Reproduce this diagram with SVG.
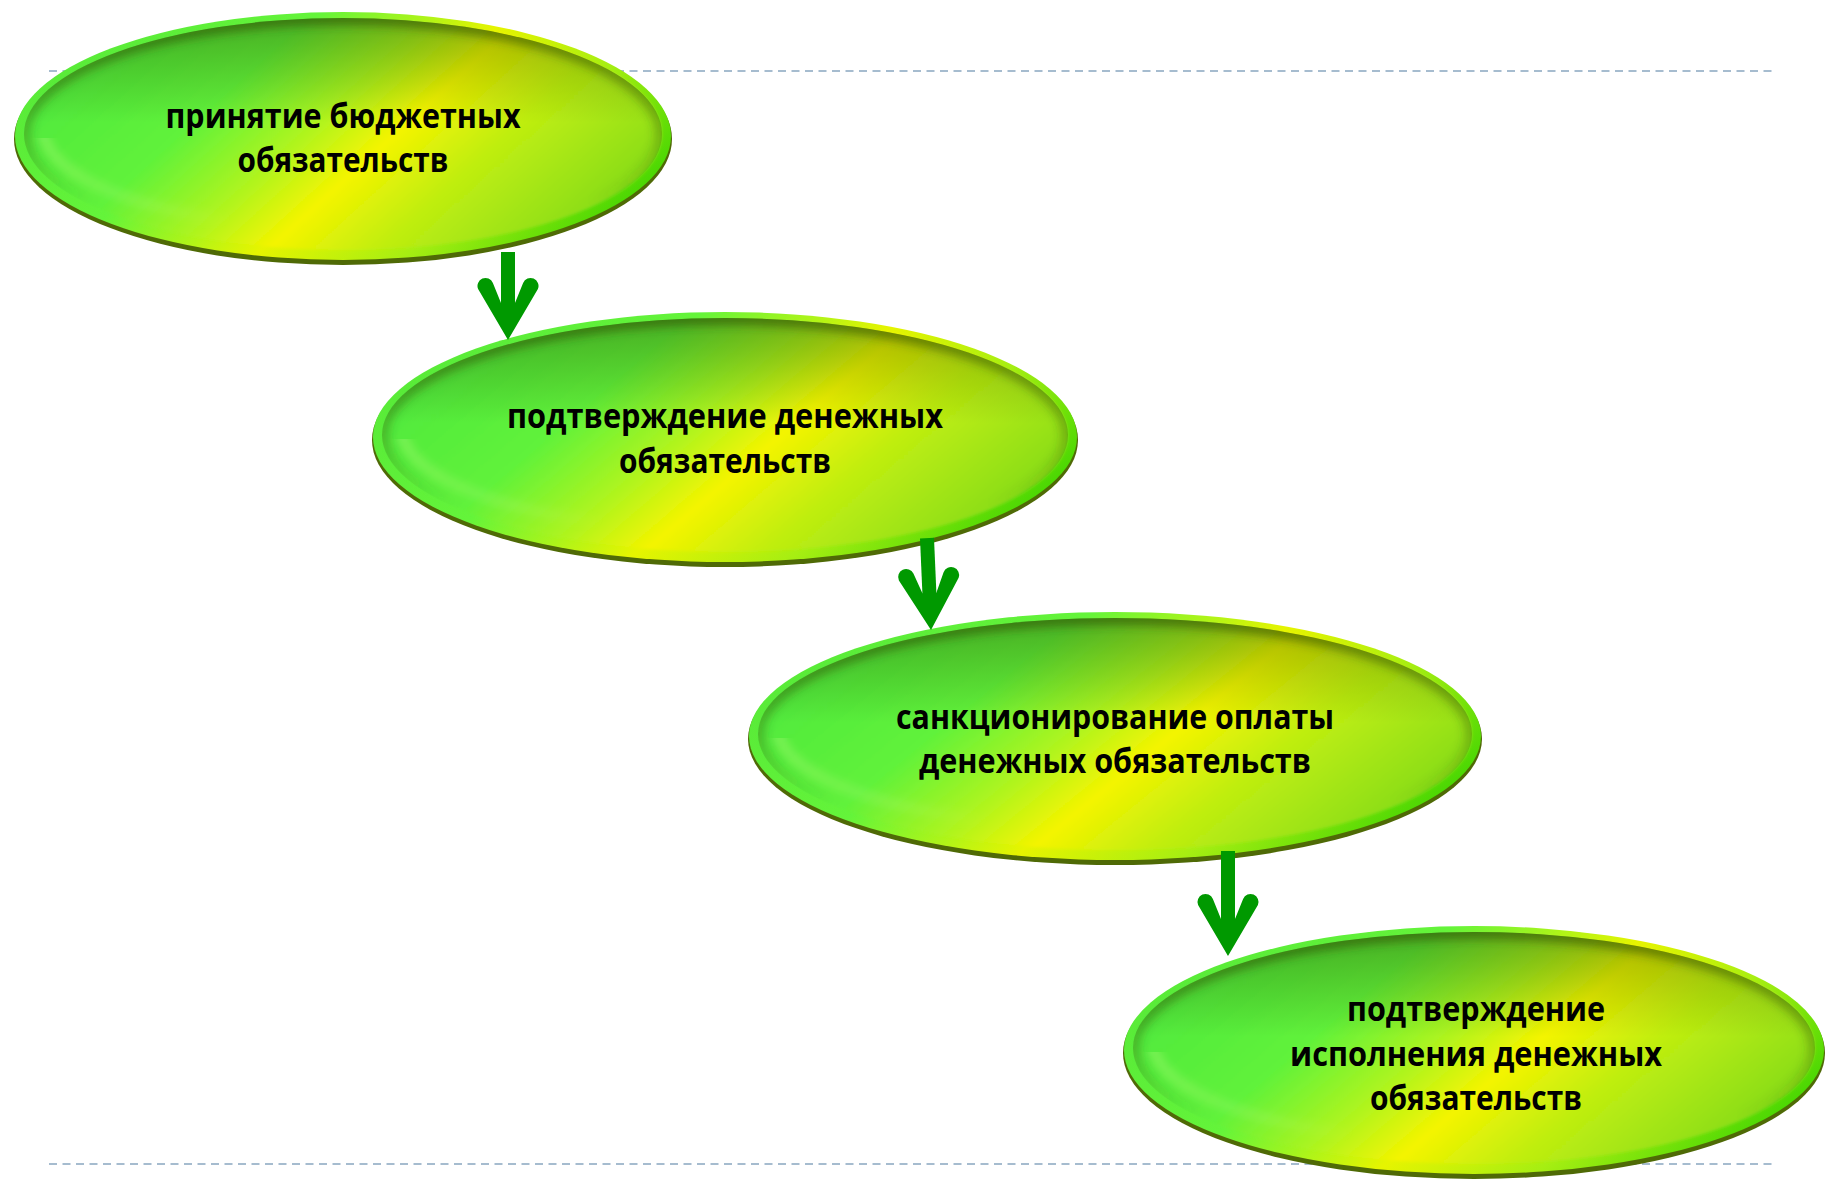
<svg xmlns="http://www.w3.org/2000/svg" width="1825" height="1181" viewBox="0 0 1825 1181">
  <style>
    .lbl { font-family: "Open Sans", "Noto Sans", "Liberation Sans", sans-serif; font-weight: 700; font-size: 34px; fill: #000; text-anchor: middle; }
    .guide { stroke: #a6bccf; stroke-width: 2; stroke-dasharray: 8 5.5; fill: none; }
    .base { fill: #4f6a06; }
    .rim { fill: url(#rimGrad); }
    .body { fill: url(#bodyGrad); }
    .shade { fill: url(#shadeGrad); }
    .edge { fill: none; stroke: url(#edgeGrad); stroke-width: 14; }
    .hl { fill: none; stroke: url(#hlGrad); stroke-width: 10; }
    .arrow { fill: #009900; }
    .shaft { stroke: #009900; stroke-width: 14; fill: none; }
  </style>
  <defs>
    <linearGradient id="rimGrad" x1="0" y1="0.3" x2="1" y2="0.7">
      <stop offset="0" stop-color="#58ea38"/>
      <stop offset="0.3" stop-color="#64f43a"/>
      <stop offset="0.55" stop-color="#e6f400"/>
      <stop offset="0.75" stop-color="#a6ee12"/>
      <stop offset="1" stop-color="#3cd400"/>
    </linearGradient>
    <linearGradient id="bodyGrad" x1="0" y1="0.3" x2="1" y2="0.7">
      <stop offset="0" stop-color="#4ee83c"/>
      <stop offset="0.28" stop-color="#60f23a"/>
      <stop offset="0.45" stop-color="#b0f41e"/>
      <stop offset="0.57" stop-color="#f4f400"/>
      <stop offset="0.72" stop-color="#c0ee10"/>
      <stop offset="1" stop-color="#80da1a"/>
    </linearGradient>
    <linearGradient id="shadeGrad" x1="0" y1="0" x2="0" y2="1">
      <stop offset="0" stop-color="#2a5200" stop-opacity="0.42"/>
      <stop offset="0.22" stop-color="#2a5a00" stop-opacity="0.22"/>
      <stop offset="0.45" stop-color="#2a5a00" stop-opacity="0"/>
      <stop offset="1" stop-color="#2a5a00" stop-opacity="0"/>
    </linearGradient>
    <linearGradient id="edgeGrad" x1="0" y1="0" x2="0" y2="1">
      <stop offset="0" stop-color="#2c4a00" stop-opacity="0.55"/>
      <stop offset="0.5" stop-color="#2c4a00" stop-opacity="0.3"/>
      <stop offset="0.8" stop-color="#2c4a00" stop-opacity="0"/>
    </linearGradient>
    <linearGradient id="hlGrad" x1="0" y1="0" x2="1" y2="0.4">
      <stop offset="0" stop-color="#c8ff90" stop-opacity="0.45"/>
      <stop offset="0.35" stop-color="#d8ff90" stop-opacity="0.2"/>
      <stop offset="0.6" stop-color="#ffffff" stop-opacity="0"/>
    </linearGradient>
    <clipPath id="inner" clipPathUnits="objectBoundingBox">
      <ellipse cx="0.5" cy="0.5" rx="0.5" ry="0.5"/>
    </clipPath>
    <clipPath id="lower" clipPathUnits="objectBoundingBox">
      <rect x="-0.1" y="0.55" width="1.2" height="0.6"/>
    </clipPath>
    <filter id="soft" x="-5%" y="-10%" width="110%" height="120%">
      <feGaussianBlur stdDeviation="1.5"/>
    </filter>
    <filter id="blur" x="-5%" y="-10%" width="110%" height="120%">
      <feGaussianBlur stdDeviation="5"/>
    </filter>
    <path id="head" d="M0,0 L-29.9,-50.9 A8,8 0 0 1 -15.1,-57.1 L-7,-37 L7,-37 L15.1,-57.1 A8,8 0 0 1 29.9,-50.9 Z"/>
  </defs>

  <rect width="1825" height="1181" fill="#ffffff"/>

  <g id="guides">
    <line class="guide" x1="49" y1="71" x2="1777" y2="71"/>
    <line class="guide" x1="49" y1="1164" x2="1777" y2="1164"/>
  </g>

  <g id="node1">
    <ellipse class="base" cx="343" cy="139" rx="329" ry="126"/>
    <ellipse class="rim" cx="343" cy="136" rx="328" ry="124"/>
    <ellipse class="body" cx="343" cy="134" rx="319" ry="116" filter="url(#soft)"/>
    <ellipse class="shade" cx="343" cy="134" rx="319" ry="116"/>
    <g clip-path="url(#inner)"><ellipse class="edge" cx="343" cy="134" rx="319" ry="116" filter="url(#blur)"/></g>
    <ellipse class="hl" cx="343" cy="128" rx="300" ry="100" filter="url(#blur)" clip-path="url(#lower)"/>
    <text class="lbl" x="343" y="128" textLength="355" lengthAdjust="spacingAndGlyphs">принятие бюджетных</text>
    <text class="lbl" x="343" y="172" textLength="211" lengthAdjust="spacingAndGlyphs">обязательств</text>
  </g>

  <g id="node2">
    <ellipse class="base" cx="725" cy="440" rx="353" ry="127"/>
    <ellipse class="rim" cx="725" cy="437" rx="352" ry="125"/>
    <ellipse class="body" cx="725" cy="435" rx="343" ry="117" filter="url(#soft)"/>
    <ellipse class="shade" cx="725" cy="435" rx="343" ry="117"/>
    <g clip-path="url(#inner)"><ellipse class="edge" cx="725" cy="435" rx="343" ry="117" filter="url(#blur)"/></g>
    <ellipse class="hl" cx="725" cy="429" rx="323" ry="101" filter="url(#blur)" clip-path="url(#lower)"/>
    <text class="lbl" x="725" y="428" textLength="436" lengthAdjust="spacingAndGlyphs">подтверждение денежных</text>
    <text class="lbl" x="725" y="473" textLength="212" lengthAdjust="spacingAndGlyphs">обязательств</text>
  </g>

  <g id="node3">
    <ellipse class="base" cx="1115" cy="739" rx="367" ry="126"/>
    <ellipse class="rim" cx="1115" cy="736" rx="366" ry="124"/>
    <ellipse class="body" cx="1115" cy="734" rx="357" ry="116" filter="url(#soft)"/>
    <ellipse class="shade" cx="1115" cy="734" rx="357" ry="116"/>
    <g clip-path="url(#inner)"><ellipse class="edge" cx="1115" cy="734" rx="357" ry="116" filter="url(#blur)"/></g>
    <ellipse class="hl" cx="1115" cy="728" rx="337" ry="100" filter="url(#blur)" clip-path="url(#lower)"/>
    <text class="lbl" x="1115" y="729" textLength="438" lengthAdjust="spacingAndGlyphs">санкционирование оплаты</text>
    <text class="lbl" x="1115" y="773" textLength="392" lengthAdjust="spacingAndGlyphs">денежных обязательств</text>
  </g>

  <g id="node4">
    <ellipse class="base" cx="1474" cy="1053" rx="351" ry="126"/>
    <ellipse class="rim" cx="1474" cy="1050" rx="350" ry="124"/>
    <ellipse class="body" cx="1474" cy="1048" rx="341" ry="116" filter="url(#soft)"/>
    <ellipse class="shade" cx="1474" cy="1048" rx="341" ry="116"/>
    <g clip-path="url(#inner)"><ellipse class="edge" cx="1474" cy="1048" rx="341" ry="116" filter="url(#blur)"/></g>
    <ellipse class="hl" cx="1474" cy="1042" rx="321" ry="100" filter="url(#blur)" clip-path="url(#lower)"/>
    <text class="lbl" x="1476" y="1021" textLength="258" lengthAdjust="spacingAndGlyphs">подтверждение</text>
    <text class="lbl" x="1476" y="1066" textLength="372" lengthAdjust="spacingAndGlyphs">исполнения денежных</text>
    <text class="lbl" x="1476" y="1110" textLength="212" lengthAdjust="spacingAndGlyphs">обязательств</text>
  </g>

  <g id="connectors">
    <g id="arrow1" transform="translate(508,340)">
      <line class="shaft" x1="0" y1="-88" x2="0" y2="-30"/>
      <use href="#head" class="arrow"/>
    </g>
    <g id="arrow2" transform="translate(931,630) rotate(-2.5)">
      <line class="shaft" x1="0" y1="-92" x2="0" y2="-30"/>
      <use href="#head" class="arrow"/>
    </g>
    <g id="arrow3" transform="translate(1228,956)">
      <line class="shaft" x1="0" y1="-105" x2="0" y2="-30"/>
      <use href="#head" class="arrow"/>
    </g>
  </g>
</svg>
